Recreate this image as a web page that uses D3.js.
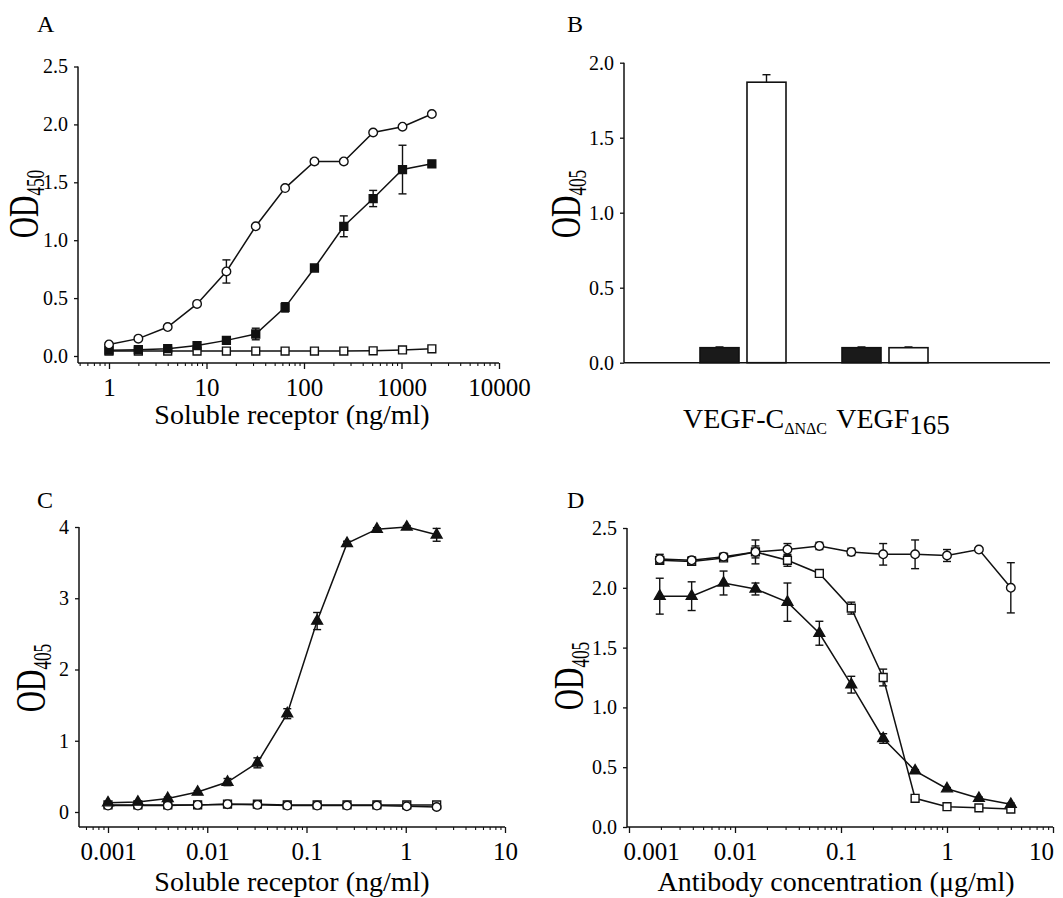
<!DOCTYPE html>
<html>
<head>
<meta charset="utf-8">
<script src="https://cdn.jsdelivr.net/npm/d3@7"></script>
<style>
  body { margin: 0; background: #fff; }
  svg text { font-family: "Liberation Serif", "Times New Roman", serif; fill: #000; }
</style>
</head>
<body>
<svg id="fig" width="1063" height="898"></svg>
<script>
// ---- data ----
const doseA = [1, 2, 4, 8, 16, 32, 64, 128, 256, 512, 1024, 2048];
const aOpenCircle = [0.10, 0.15, 0.25, 0.45, 0.73, 1.12, 1.45, 1.68, 1.68, 1.93, 1.98, 2.09];
const aOpenCircleErr = [0, 0, 0, 0, 0.10, 0, 0, 0.02, 0.02, 0, 0, 0];
const aFilledSquare = [0.05, 0.055, 0.063, 0.09, 0.135, 0.19, 0.42, 0.76, 1.12, 1.36, 1.61, 1.66];
const aFilledSquareErr = [0, 0, 0, 0.01, 0.01, 0.05, 0.04, 0.02, 0.09, 0.07, 0.21, 0.02];
const aOpenSquare = [0.043, 0.043, 0.043, 0.043, 0.043, 0.043, 0.043, 0.043, 0.043, 0.045, 0.052, 0.062];

const bGroups = ["VEGF-C", "VEGF165"];
const bFilled = [0.10, 0.10];
const bFilledErr = [0.005, 0.005];
const bOpen = [1.87, 0.10];
const bOpenErr = [0.05, 0.005];

const doseC = [0.001, 0.002, 0.004, 0.008, 0.016, 0.032, 0.064, 0.128, 0.256, 0.512, 1.024, 2.048];
const cTriangle = [0.13, 0.14, 0.19, 0.28, 0.42, 0.69, 1.38, 2.68, 3.77, 3.97, 4.00, 3.89];
const cTriangleErr = [0.01, 0.01, 0.02, 0.02, 0.05, 0.07, 0.07, 0.12, 0.03, 0.02, 0.02, 0.09];
const cCircle = [0.09, 0.09, 0.09, 0.10, 0.11, 0.10, 0.09, 0.09, 0.09, 0.09, 0.08, 0.07];
const cSquare = [0.10, 0.10, 0.10, 0.10, 0.11, 0.11, 0.10, 0.10, 0.10, 0.10, 0.10, 0.10];

const doseD = [0.00195, 0.0039, 0.0078, 0.0156, 0.03125, 0.0625, 0.125, 0.25, 0.5, 1, 2, 4];
const dCircle = [2.24, 2.23, 2.26, 2.30, 2.32, 2.35, 2.30, 2.28, 2.28, 2.27, 2.32, 2.00];
const dCircleErr = [0.04, 0.03, 0.03, 0.10, 0.05, 0.03, 0.03, 0.09, 0.12, 0.05, 0.01, 0.21];
const dSquare = [2.23, 2.22, 2.25, 2.30, 2.23, 2.12, 1.83, 1.25, 0.24, 0.17, 0.16, 0.15];
const dSquareErr = [0.03, 0.03, 0.02, 0.05, 0.05, 0.02, 0.05, 0.07, 0.01, 0, 0, 0];
const dTriangle = [1.93, 1.93, 2.04, 1.99, 1.88, 1.62, 1.19, 0.74, 0.47, 0.32, 0.24, 0.19];
const dTriangleErr = [0.15, 0.12, 0.10, 0.05, 0.16, 0.10, 0.07, 0.04, 0.01, 0.01, 0.01, 0.01];

const ticksOD25 = [0, 0.5, 1, 1.5, 2, 2.5];
const ticksOD20 = [0, 0.5, 1, 1.5, 2];
const ticksOD4 = [0, 1, 2, 3, 4];
const decadesA = [1, 10, 100, 1000, 10000];
const decadesCD = [0.001, 0.01, 0.1, 1, 10];

const svg = d3.select("#fig");
const INK = "#111";

function panelLetter(txt, x, y) {
  svg.append("text").attr("x", x).attr("y", y).attr("font-size", 24).text(txt);
}

// rotated OD label with subscript, a bit condensed like the original
function odLabel(x, y, sub) {
  const t = svg.append("text")
    .attr("transform", `translate(${x},${y}) rotate(-90) scale(0.82,1.2)`)
    .attr("text-anchor", "middle");
  t.append("tspan").attr("font-size", 36).text("OD");
  t.append("tspan").attr("font-size", 21).attr("dy", 5).text(sub);
}

function yAxis(g, y, left, bottom, ticks, fmt) {
  g.append("g")
    .attr("transform", `translate(${left},0)`)
    .call(d3.axisLeft(y).tickValues(ticks).tickSize(4).tickSizeOuter(0).tickPadding(6).tickFormat(fmt))
    .call(a => a.select(".domain").remove())
    .call(a => a.selectAll("line").attr("stroke", INK).attr("stroke-width", 1.3))
    .call(a => a.selectAll("text").attr("font-size", 20).attr("font-family", "Liberation Serif"));
  g.append("line")
    .attr("x1", left).attr("x2", left)
    .attr("y1", y(d3.max(ticks))).attr("y2", bottom)
    .attr("stroke", INK).attr("stroke-width", 1.5);
}

function logXAxis(g, x, left, axisY, decades, fmt, edgeShift) {
  const vmin = x.invert(left);
  const vmax = d3.max(decades);
  const minor = [];
  for (let e = Math.floor(Math.log10(vmin)); e < Math.log10(vmax); e++) {
    for (let k = 2; k <= 9; k++) {
      const v = k * Math.pow(10, e);
      if (v >= vmin && v <= vmax) minor.push(v);
    }
  }
  g.append("g")
    .attr("transform", `translate(0,${axisY})`)
    .call(d3.axisBottom(x).tickValues(minor).tickSize(3).tickSizeOuter(0).tickFormat(""))
    .call(a => a.select(".domain").remove())
    .call(a => a.selectAll("line").attr("stroke", INK).attr("stroke-width", 1.1));
  const major = g.append("g")
    .attr("transform", `translate(0,${axisY})`)
    .call(d3.axisBottom(x).tickValues(decades).tickSize(6).tickSizeOuter(0).tickPadding(9).tickFormat(fmt))
    .call(a => a.select(".domain").remove())
    .call(a => a.selectAll("line").attr("stroke", INK).attr("stroke-width", 1.3))
    .call(a => a.selectAll("text").attr("font-size", 25).attr("font-family", "Liberation Serif"));
  if (edgeShift) {
    // nudge the outermost labels inward, as in the original layout
    const labels = major.selectAll(".tick text");
    labels.filter((d, i) => i === 0).attr("dx", edgeShift[0]);
    labels.filter((d, i, n) => i === n.length - 1).attr("dx", edgeShift[1]);
  }
  g.append("line")
    .attr("x1", left).attr("x2", x(vmax))
    .attr("y1", axisY).attr("y2", axisY)
    .attr("stroke", INK).attr("stroke-width", 1.5);
}

function series(g, x, y, dose, vals, errs, shape, filled) {
  const pts = dose.map((d, i) => ({ d: d, v: vals[i], e: errs ? errs[i] : 0 }));
  g.append("path")
    .datum(pts)
    .attr("fill", "none").attr("stroke", INK).attr("stroke-width", 1.5)
    .attr("d", d3.line().x(p => x(p.d)).y(p => y(p.v)));
  const eb = g.append("g").attr("stroke", INK).attr("stroke-width", 1.4);
  pts.filter(p => p.e > 0).forEach(p => {
    const cx = x(p.d);
    eb.append("line").attr("x1", cx).attr("x2", cx).attr("y1", y(p.v - p.e)).attr("y2", y(p.v + p.e));
    eb.append("line").attr("x1", cx - 4).attr("x2", cx + 4).attr("y1", y(p.v - p.e)).attr("y2", y(p.v - p.e));
    eb.append("line").attr("x1", cx - 4).attr("x2", cx + 4).attr("y1", y(p.v + p.e)).attr("y2", y(p.v + p.e));
  });
  const size = shape === d3.symbolCircle ? 58 : shape === d3.symbolSquare ? 62 : 50;
  g.append("g").selectAll("path")
    .data(pts).join("path")
    .attr("transform", p => `translate(${x(p.d)},${y(p.v)})`)
    .attr("d", d3.symbol(shape, size))
    .attr("fill", filled ? INK : "#fff")
    .attr("stroke", INK).attr("stroke-width", 1.4);
}

// ---- Panel A ----
{
  const g = svg.append("g");
  const x = d3.scaleLog().domain([1, 10000]).range([109, 499]);
  const y = d3.scaleLinear().domain([0, 2.5]).range([356, 66.5]);
  yAxis(g, y, 78, 363, ticksOD25, d3.format(".1f"));
  logXAxis(g, x, 78, 363, decadesA, d3.format("d"));
  series(g, x, y, doseA, aOpenSquare, null, d3.symbolSquare, false);
  series(g, x, y, doseA, aFilledSquare, aFilledSquareErr, d3.symbolSquare, true);
  series(g, x, y, doseA, aOpenCircle, aOpenCircleErr, d3.symbolCircle, false);
  panelLetter("A", 37, 32);
  odLabel(38, 204, "450");
  svg.append("text").attr("x", 292).attr("y", 424).attr("text-anchor", "middle")
    .attr("font-size", 28).text("Soluble receptor (ng/ml)");
}

// ---- Panel B ----
{
  const g = svg.append("g");
  const y = d3.scaleLinear().domain([0, 2]).range([362.7, 62.7]);
  const gx = d3.scalePoint().domain(bGroups).range([743, 885]);
  const sub = d3.scaleBand().domain(["filled", "open"]).range([-43, 43]).paddingInner(0.17);
  yAxis(g, y, 624, 362.7, ticksOD20, d3.format(".1f"));
  const bars = [];
  bGroups.forEach((grp, i) => {
    bars.push({ grp: grp, s: "filled", v: bFilled[i], e: bFilledErr[i] });
    bars.push({ grp: grp, s: "open", v: bOpen[i], e: bOpenErr[i] });
  });
  // error bars (upper half only) drawn first, then bars
  bars.forEach(b => {
    const cx = gx(b.grp) + sub(b.s) + sub.bandwidth() / 2;
    g.append("line").attr("x1", cx).attr("x2", cx).attr("y1", y(b.v)).attr("y2", y(b.v + b.e))
      .attr("stroke", INK).attr("stroke-width", 1.4);
    g.append("line").attr("x1", cx - 4).attr("x2", cx + 4).attr("y1", y(b.v + b.e)).attr("y2", y(b.v + b.e))
      .attr("stroke", INK).attr("stroke-width", 1.4);
  });
  g.selectAll("rect.bar").data(bars).join("rect")
    .attr("class", "bar")
    .attr("x", b => gx(b.grp) + sub(b.s))
    .attr("width", sub.bandwidth())
    .attr("y", b => y(b.v))
    .attr("height", b => y(0) - y(b.v))
    .attr("fill", b => b.s === "filled" ? "#1a1a1a" : "#fff")
    .attr("stroke", INK).attr("stroke-width", 1.6);
  g.append("line").attr("x1", 624).attr("x2", 1050).attr("y1", y(0)).attr("y2", y(0))
    .attr("stroke", INK).attr("stroke-width", 1.5);
  panelLetter("B", 567, 32);
  odLabel(580, 204, "405");
  const l1 = svg.append("text").attr("x", gx(bGroups[0]) + 12).attr("y", 428)
    .attr("text-anchor", "middle").attr("font-size", 28);
  l1.append("tspan").text("VEGF-C");
  l1.append("tspan").attr("font-size", 16).attr("dy", 6).text("ΔNΔC");
  const l2 = svg.append("text").attr("x", gx(bGroups[1]) + 8).attr("y", 428)
    .attr("text-anchor", "middle").attr("font-size", 28);
  l2.append("tspan").text("VEGF");
  l2.append("tspan").attr("font-size", 27).attr("dy", 6).text("165");
}

// ---- Panel C ----
{
  const g = svg.append("g");
  const x = d3.scaleLog().domain([0.001, 10]).range([108, 505]);
  const y = d3.scaleLinear().domain([0, 4]).range([812, 527]);
  yAxis(g, y, 79, 827, ticksOD4, d3.format("d"));
  logXAxis(g, x, 79, 827, decadesCD, d => String(d));
  series(g, x, y, doseC, cSquare, null, d3.symbolSquare, false);
  series(g, x, y, doseC, cCircle, null, d3.symbolCircle, false);
  series(g, x, y, doseC, cTriangle, cTriangleErr, d3.symbolTriangle, true);
  panelLetter("C", 37, 508);
  odLabel(45, 678, "405");
  svg.append("text").attr("x", 292).attr("y", 891).attr("text-anchor", "middle")
    .attr("font-size", 28).text("Soluble receptor (ng/ml)");
}

// ---- Panel D ----
{
  const g = svg.append("g");
  const x = d3.scaleLog().domain([0.001, 10]).range([629, 1053]);
  const y = d3.scaleLinear().domain([0, 2.5]).range([827, 528]);
  yAxis(g, y, 627, 827, ticksOD25, d3.format(".1f"));
  logXAxis(g, x, 627, 827, decadesCD, d => String(d), [22, -12]);
  series(g, x, y, doseD, dSquare, dSquareErr, d3.symbolSquare, false);
  series(g, x, y, doseD, dTriangle, dTriangleErr, d3.symbolTriangle, true);
  series(g, x, y, doseD, dCircle, dCircleErr, d3.symbolCircle, false);
  panelLetter("D", 567, 508);
  odLabel(583, 676, "405");
  svg.append("text").attr("x", 836).attr("y", 891).attr("text-anchor", "middle")
    .attr("font-size", 28).text("Antibody concentration (μg/ml)");
}
</script>
</body>
</html>
